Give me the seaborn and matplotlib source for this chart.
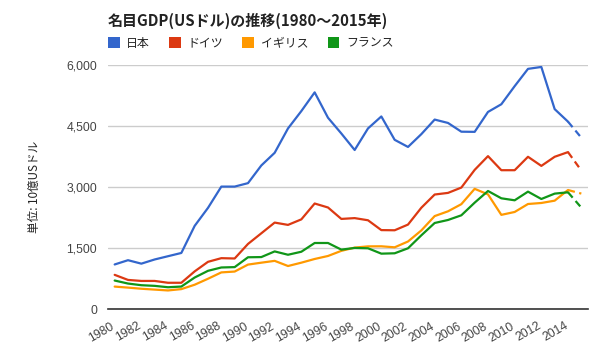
import matplotlib
matplotlib.use("Agg")
import matplotlib.pyplot as plt
import matplotlib.transforms as mtransforms
from matplotlib.patches import Patch
import seaborn as sns
import pandas as pd

years = list(range(1980, 2016))
japan = [1095, 1200, 1115, 1218, 1298, 1378, 2044, 2487, 3010, 3010,
         3095, 3530, 3841, 4440, 4867, 5327, 4703, 4316, 3910, 4440,
         4735, 4160, 3985, 4300, 4658, 4575, 4360, 4356, 4846, 5035,
         5480, 5905, 5952, 4915, 4607, 4212]
germany = [840, 715, 690, 690, 645, 645, 925, 1160, 1250, 1242,
           1600, 1862, 2125, 2068, 2204, 2594, 2496, 2215, 2235, 2182,
           1940, 1936, 2076, 2490, 2815, 2855, 2986, 3421, 3759, 3413,
           3413, 3743, 3519, 3743, 3858, 3405]
uk = [551, 526, 498, 477, 456, 489, 597, 744, 900, 921,
      1092, 1139, 1184, 1057, 1139, 1230, 1304, 1430, 1510, 1540,
      1542, 1517, 1660, 1932, 2285, 2402, 2578, 2955, 2818, 2315,
      2386, 2582, 2607, 2664, 2926, 2838]
france = [700, 626, 585, 569, 535, 552, 774, 939, 1021, 1030,
          1272, 1277, 1416, 1334, 1408, 1623, 1623, 1460, 1501, 1493,
          1361, 1370, 1493, 1812, 2115, 2189, 2304, 2615, 2902, 2722,
          2673, 2886, 2705, 2837, 2870, 2493]
series_names = ["日本", "ドイツ", "イギリス", "フランス"]
colors = ["#3366cc", "#dc3912", "#ff9900", "#109618"]
y_ticks = [0, 1500, 3000, 4500, 6000]
x_ticks = list(range(1980, 2015, 2))
title = "名目GDP(USドル)の推移(1980～2015年)"
ylabel = "単位: 10億USドル"
estimate_from = 2014

rows = []
for name, vals in zip(series_names, [japan, germany, uk, france]):
    for y, v in zip(years, vals):
        rows.append({"year": y, "value": v, "country": name})
df = pd.DataFrame(rows)
solid = df[df["year"] <= estimate_from]
dashed = df[df["year"] >= estimate_from]

sns.set_theme(style="white")
plt.rcParams["font.family"] = ["Liberation Sans", "Noto Sans CJK JP", "DejaVu Sans"]
cjk = ["Noto Sans CJK JP", "DejaVu Sans"]

fig = plt.figure(figsize=(6, 3.6), dpi=100)
ax = fig.add_axes([108 / 600, 1 - 309 / 360, 480 / 600, 244 / 360])
palette = dict(zip(series_names, colors))

sns.lineplot(data=solid, x="year", y="value", hue="country", palette=palette,
             hue_order=series_names, linewidth=1.6, legend=False, ax=ax)
sns.lineplot(data=dashed, x="year", y="value", hue="country", palette=palette,
             hue_order=series_names, linewidth=1.6, legend=False, ax=ax)
for line in ax.lines[len(series_names):]:
    line.set_dashes([3.2, 2.0])

ax.set_xlim(1979.5, 2015.5)
ax.set_ylim(0, 6000)
ax.set_yticks(y_ticks)
ax.set_yticklabels([f"{t:,}" for t in y_ticks])
ax.set_xticks(x_ticks)
ax.set_xticklabels([str(t) for t in x_ticks], rotation=30, ha="right",
                   va="top", rotation_mode="anchor")
ax.tick_params(axis="both", length=0, labelsize=8.8, labelcolor="#444444")
ax.tick_params(axis="y", pad=8)
ax.tick_params(axis="x", pad=8)
offset = mtransforms.ScaledTranslation(-4 / 100, 0, fig.dpi_scale_trans)
for lbl in ax.get_xticklabels():
    lbl.set_transform(lbl.get_transform() + offset)

ax.grid(axis="y", color="#cccccc", linewidth=1)
ax.grid(axis="x", visible=False)
for s in ["top", "right", "left"]:
    ax.spines[s].set_visible(False)
ax.spines["bottom"].set_color("#333333")
ax.spines["bottom"].set_linewidth(1.2)
ax.set_axisbelow(True)
ax.set_xlabel("")
ax.set_ylabel("")

fig.text(108 / 600, 1 - 21 / 360, title, family=cjk, fontsize=10.8,
         fontweight="bold", color="#222222", ha="left", va="center")
fig.text(34 / 600, 1 - 187 / 360, ylabel, family=cjk, fontsize=8.4,
         color="#222222", rotation=90, ha="center", va="center")

handles = [Patch(facecolor=c, edgecolor="none") for c in colors]
leg = fig.legend(handles, series_names, loc="center left",
                 bbox_to_anchor=(97 / 600, 1 - 43 / 360), ncol=4,
                 frameon=False, handlelength=1.0, handleheight=1.0,
                 handletextpad=0.55, columnspacing=1.6,
                 prop={"family": cjk, "size": 8.6})
for t in leg.get_texts():
    t.set_color("#222222")

fig.savefig("out.png", dpi=100)
